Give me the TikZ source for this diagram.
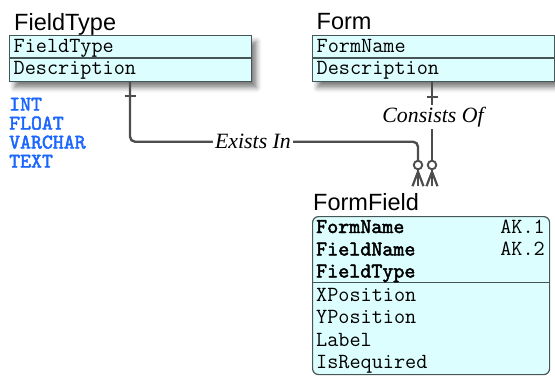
\documentclass[tikz,border=0pt]{standalone}
\usepackage{fontspec}
\setmainfont{Liberation Serif}
\newfontfamily\titlefont{Liberation Sans}
\newfontfamily\heavymono{lmmono10-regular.otf}[FakeBold=2.2]
\usetikzlibrary{shadows.blur}

\definecolor{boxfill}{RGB}{220,254,254}
\definecolor{boxline}{RGB}{70,85,85}
\definecolor{connc}{RGB}{77,77,77}
\definecolor{typeblue}{RGB}{26,102,255}

\begin{document}
\begin{tikzpicture}[x=1pt,y=-1pt,
  entbox/.style={draw=boxline, fill=boxfill, line width=1.2pt, inner sep=0pt, anchor=north west},
  shadowed/.style={blur shadow={shadow xshift=5pt, shadow yshift=-6pt, shadow blur radius=5pt, shadow opacity=50}},
  sepline/.style={draw=boxline, line width=1.2pt},
  title/.style={font=\titlefont\fontsize{23.5}{26}\selectfont, anchor=base west, inner sep=0pt},
  field/.style={font=\ttfamily\fontsize{21.6}{22}\selectfont, anchor=base west, inner sep=0pt},
  keyfield/.style={font=\heavymono\fontsize{21}{22}\selectfont, anchor=base west, inner sep=0pt},
  akfield/.style={font=\ttfamily\fontsize{21.6}{22}\selectfont, anchor=base east, inner sep=0pt},
  typelist/.style={font=\heavymono\fontsize{20.8}{22}\selectfont, text=typeblue, anchor=base west, inner sep=0pt},
  lbl/.style={font=\itshape\fontsize{21.8}{24}\selectfont, inner sep=2pt},
  conn/.style={draw=connc, line width=2.4pt, rounded corners=5pt},
  tickln/.style={draw=connc, line width=2.4pt},
  ring/.style={circle, draw=connc, line width=1.9pt, fill=white, minimum size=8.5pt, inner sep=0pt},
  footln/.style={draw=connc, line width=2.2pt}
]
\useasboundingbox (0,0) rectangle (555,376);

% FieldType entity
\node[entbox, shadowed, minimum width=242pt, minimum height=46pt] (ft) at (9,35) {};
\draw[sepline] (ft.west |- 0,58) -- (ft.east |- 0,58);
\node[title] (ftt) at (14,30) {FieldType};
\node[field] (ft1) at (13.5,52) {FieldType};
\node[field] (ft2) at (13.5,74) {Description};

% type list
\node[typelist] (t1) at (9,110.5) {INT};
\node[typelist] (t2) at (9,129.5) {FLOAT};
\node[typelist] (t3) at (9,148.5) {VARCHAR};
\node[typelist] (t4) at (9,167.5) {TEXT};

% Form entity
\node[entbox, shadowed, minimum width=242pt, minimum height=46pt] (fm) at (312,35) {};
\draw[sepline] (fm.west |- 0,58) -- (fm.east |- 0,58);
\node[title] (fmt) at (316.5,29.5) {Form};
\node[field] (fm1) at (316.5,52) {FormName};
\node[field] (fm2) at (316.5,74) {Description};

% FormField entity
\node[entbox, rounded corners=6pt, minimum width=237pt, minimum height=158pt] (ff) at (312,216) {};
\draw[sepline] (ff.west |- 0,282.5) -- (ff.east |- 0,282.5);
\node[title] (fft) at (313,210.5) {FormField};
\node[keyfield] (ff1) at (316,233) {FormName};
\node[keyfield] (ff2) at (316,255.5) {FieldName};
\node[keyfield] (ff3) at (316,277.5) {FieldType};
\node[akfield] (ak1) at (545,233) {AK.1};
\node[akfield] (ak2) at (545,255.5) {AK.2};
\node[field] (ff4) at (316,301) {XPosition};
\node[field] (ff5) at (316,323.5) {YPosition};
\node[field] (ff6) at (316,346) {Label};
\node[field] (ff7) at (316,368) {IsRequired};

% relationship labels and rings
\node[lbl] (exists) at (253,141.7) {Exists In};
\node[lbl] (consists) at (433,117) {Consists Of};
\node[ring] (c1) at (418,165) {};
\node[ring] (c2) at (432,165) {};

% connectors
\draw[conn] (ft.south -| 130,0) |- (exists.west);
\draw[conn] (exists.east) -| (c1.north);
\draw[conn] (fm.south -| c2.north) -- (consists.north -| c2.north);
\draw[conn] (consists.south -| c2.north) -- (c2.north);

% one-side ticks
\draw[tickln] (ft.south -| 130,0) ++(-5.5,14) -- ++(11,0);
\draw[tickln] (fm.south -| c2.north) ++(-5.5,15) -- ++(11,0);

% crow's feet
\draw[footln] (c1.south) -- ++(0,16);
\draw[footln] (c1.south) ++(0,1.5) -- ++(-5.5,14.5);
\draw[footln] (c1.south) ++(0,1.5) -- ++(5.5,14.5);
\draw[footln] (c2.south) -- ++(0,16);
\draw[footln] (c2.south) ++(0,1.5) -- ++(-5.5,14.5);
\draw[footln] (c2.south) ++(0,1.5) -- ++(5.5,14.5);
\end{tikzpicture}
\end{document}
